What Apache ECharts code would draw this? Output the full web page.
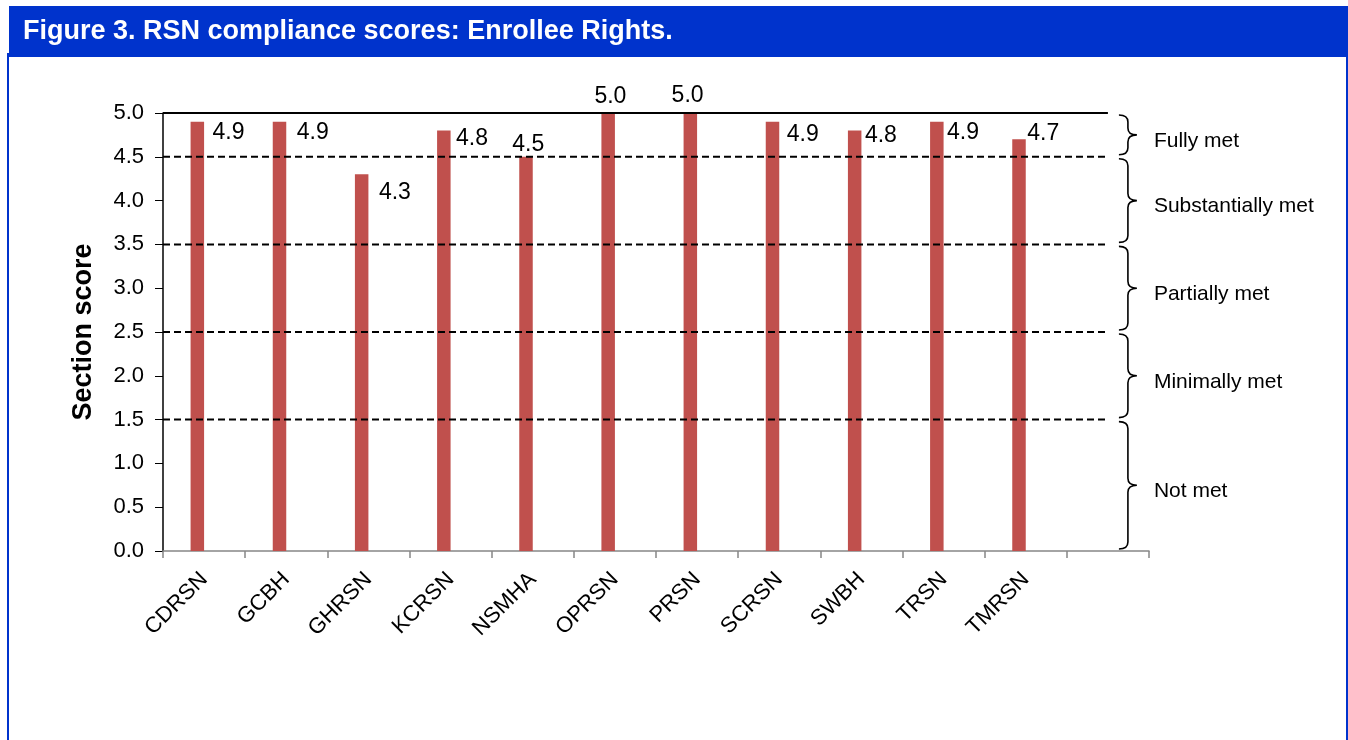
<!DOCTYPE html>
<html>
<head>
<meta charset="utf-8">
<script src="https://cdn.jsdelivr.net/npm/echarts@6/dist/echarts.min.js"></script>
<style>
    html, body { margin: 0; padding: 0; background: #fff; }
    #chart { width: 1348px; height: 740px; }
</style>
</head>
<body>
<div id="chart"></div>
<script>
// categories (last slot is empty in the original)
const categories = ['CDRSN', 'GCBH', 'GHRSN', 'KCRSN', 'NSMHA', 'OPRSN', 'PRSN', 'SCRSN', 'SWBH', 'TRSN', 'TMRSN', ''];
const scores = [4.9, 4.9, 4.3, 4.8, 4.5, 5.0, 5.0, 4.9, 4.8, 4.9, 4.7];

// compliance bands
const bandLow = [4.5, 3.5, 2.5, 1.5, 0];
const bandHigh = [5.0, 4.5, 3.5, 2.5, 1.5];
const bandNames = ['Fully met', 'Substantially met', 'Partially met', 'Minimally met', 'Not met'];

// label placement per bar (px from bar top-left), as placed by hand in the original
const labelPlace = [
    [22, 11, 'left'], [24, 11, 'left'], [24, 18, 'left'], [19, 8, 'left'],
    [9, -12, 'center'], [9, -16, 'center'], [4, -17, 'center'],
    [21, 13, 'left'], [17, 5, 'left'], [17, 11, 'left'], [15, -6, 'left']
];

const FONT = '"Liberation Sans", Arial, sans-serif';
const BLUE = '#0033CC';
const lastIdx = categories.length - 1;

const chart = echarts.init(document.getElementById('chart'));

const barData = scores.map((v, i) => {
    const p = labelPlace[i];
    return {
        value: v,
        label: {
            show: true,
            position: [p[0], p[1]],
            align: p[2],
            verticalAlign: 'middle',
            formatter: v.toFixed(1)
        }
    };
});

const bandData = bandLow.map((lo, i) => [lastIdx, lo, bandHigh[i]]);

const option = {
    animation: false,
    backgroundColor: '#fff',
    textStyle: { fontFamily: FONT },
    graphic: [
        { type: 'rect', shape: { x: 9, y: 6, width: 1339, height: 51 }, style: { fill: BLUE } },
        { type: 'rect', shape: { x: 7, y: 53, width: 2, height: 687 }, style: { fill: BLUE } },
        { type: 'rect', shape: { x: 1346, y: 55, width: 2, height: 685 }, style: { fill: BLUE } },
        {
            type: 'text', x: 23, y: 32,
            style: {
                text: 'Figure 3. RSN compliance scores: Enrollee Rights.',
                fill: '#fff', font: 'bold 27px ' + FONT, verticalAlign: 'middle'
            }
        }
    ],
    grid: {
        left: 163,
        right: 199,
        top: 113,
        bottom: 189,
        containLabel: false
    },
    xAxis: {
        type: 'category',
        data: categories,
        boundaryGap: true,
        axisLine: { lineStyle: { color: '#868686', width: 1.5 } },
        axisTick: { show: true, length: 7, lineStyle: { color: '#868686', width: 1.5 } },
        axisLabel: {
            interval: 0,
            rotate: 45,
            margin: 25,
            color: '#000',
            fontSize: 22,
            fontFamily: FONT
        }
    },
    yAxis: {
        type: 'value',
        min: 0,
        max: 5,
        interval: 0.5,
        name: 'Section score',
        nameLocation: 'middle',
        nameGap: 66,
        nameTextStyle: { color: '#000', fontSize: 27, fontWeight: 'bold', fontFamily: FONT },
        axisLine: { show: true, lineStyle: { color: '#000', width: 1.5 } },
        axisTick: { show: true, length: 8, lineStyle: { color: '#000', width: 1 } },
        splitLine: { show: false },
        axisLabel: {
            color: '#000',
            fontSize: 22,
            margin: 19,
            fontFamily: FONT,
            formatter: v => v.toFixed(1)
        }
    },
    series: [
        {
            type: 'bar',
            data: barData,
            barWidth: 13.5,
            barGap: '0%',
            itemStyle: { color: '#C0504D' },
            label: { color: '#000', fontSize: 23, fontFamily: FONT }
        },
        {
            // empty partner series, the original bars sit left of the category center
            type: 'bar',
            data: categories.map(() => '-'),
            barWidth: 13.5
        },
        {
            type: 'custom',
            clip: false,
            z: 5,
            encode: { x: 0, y: [1, 2] },
            data: bandData,
            renderItem: function (params, api) {
                const lo = api.value(1), hi = api.value(2);
                const yLo = api.coord([0, lo])[1];
                const yHi = api.coord([0, hi])[1];
                const left = params.coordSys.x;
                const endX = api.coord([lastIdx, 0])[0];
                const kids = [];
                if (lo > 0) {
                    kids.push({
                        type: 'line',
                        shape: { x1: left, y1: yLo, x2: endX, y2: yLo },
                        style: { stroke: '#000', lineWidth: 2, lineDash: [7, 4] }
                    });
                }
                if (hi >= 5) {
                    kids.push({
                        type: 'line',
                        shape: { x1: left, y1: yHi, x2: endX, y2: yHi },
                        style: { stroke: '#000', lineWidth: 2 }
                    });
                }
                // curly brace
                const top = yHi + 2, bot = yLo - 2, mid = (top + bot) / 2;
                const x0 = endX + 11, x1 = endX + 20, x2 = endX + 29, r = 7;
                const d = 'M' + x0 + ' ' + top +
                    ' Q' + x1 + ' ' + top + ' ' + x1 + ' ' + (top + r) +
                    ' L' + x1 + ' ' + (mid - r) +
                    ' Q' + x1 + ' ' + mid + ' ' + x2 + ' ' + mid +
                    ' Q' + x1 + ' ' + mid + ' ' + x1 + ' ' + (mid + r) +
                    ' L' + x1 + ' ' + (bot - r) +
                    ' Q' + x1 + ' ' + bot + ' ' + x0 + ' ' + bot;
                kids.push({
                    type: 'path',
                    shape: { pathData: d },
                    style: { stroke: '#000', fill: null, lineWidth: 1.6 }
                });
                kids.push({
                    type: 'text',
                    x: endX + 46,
                    y: mid + 6,
                    style: {
                        text: bandNames[params.dataIndex],
                        fill: '#000',
                        font: '21px ' + FONT,
                        align: 'left',
                        verticalAlign: 'middle'
                    }
                });
                return { type: 'group', children: kids };
            }
        }
    ]
};

chart.setOption(option);
</script>
</body>
</html>
